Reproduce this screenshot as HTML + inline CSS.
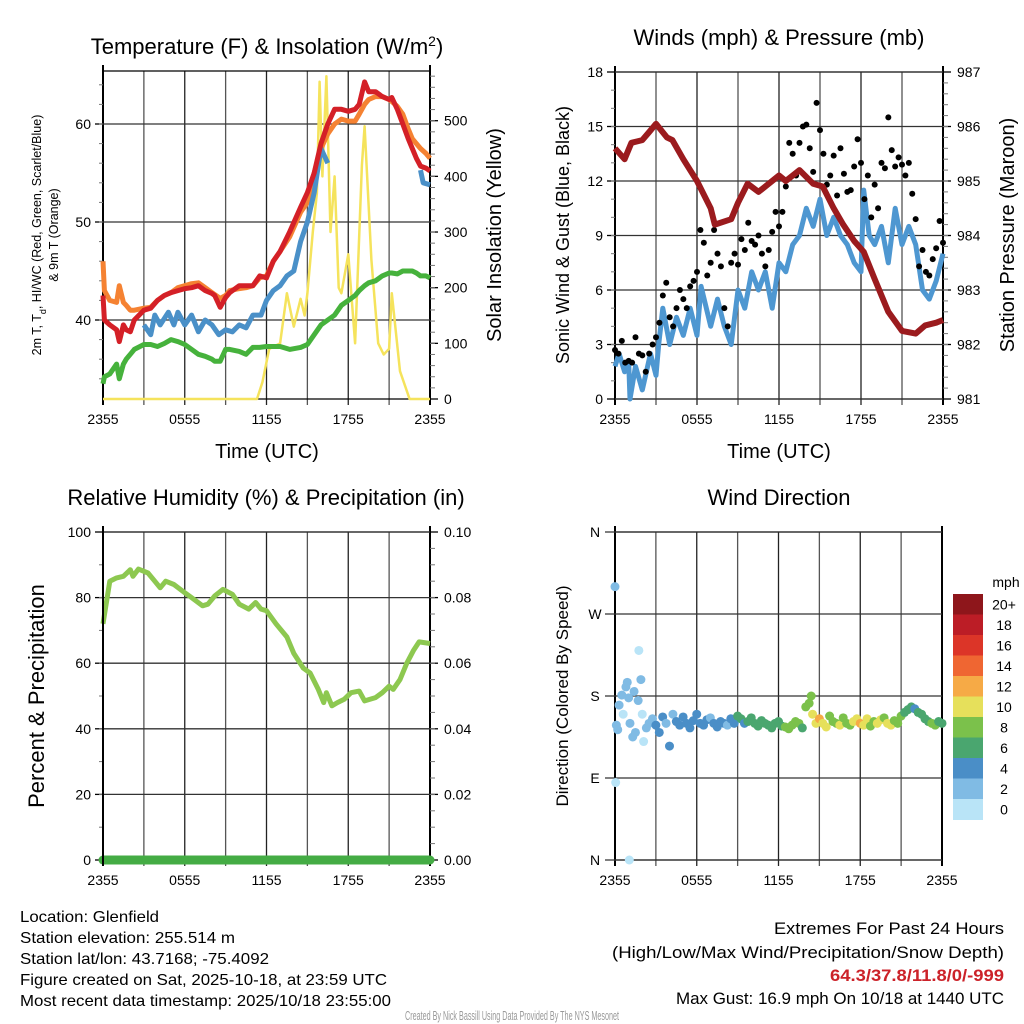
<!DOCTYPE html>
<html><head><meta charset="utf-8"><style>
html,body{margin:0;padding:0;background:#fff}
svg{display:block;font-family:"Liberation Sans",sans-serif}
</style></head><body>
<svg id="fig" width="1024" height="1024" viewBox="0 0 1024 1024" xmlns="http://www.w3.org/2000/svg">
<rect width="1024" height="1024" fill="#fff"/>
<g id="p1"></g>
<g id="p2"></g>
<g id="p3"></g>
<g id="p4"></g>
<g font-size="16" fill="#000">
<text x="20" y="922" textLength="139" lengthAdjust="spacingAndGlyphs">Location: Glenfield</text>
<text x="20" y="943" textLength="215" lengthAdjust="spacingAndGlyphs">Station elevation: 255.514 m</text>
<text x="20" y="964" textLength="249" lengthAdjust="spacingAndGlyphs">Station lat/lon: 43.7168; -75.4092</text>
<text x="20" y="985" textLength="367" lengthAdjust="spacingAndGlyphs">Figure created on Sat, 2025-10-18, at 23:59 UTC</text>
<text x="20" y="1006" textLength="371" lengthAdjust="spacingAndGlyphs">Most recent data timestamp: 2025/10/18 23:55:00</text>
</g>
<g font-size="17" text-anchor="end">
<text x="1004" y="934" textLength="230" lengthAdjust="spacingAndGlyphs">Extremes For Past 24 Hours</text>
<text x="1004" y="958" textLength="392" lengthAdjust="spacingAndGlyphs">(High/Low/Max Wind/Precipitation/Snow Depth)</text>
<text x="1004" y="981" fill="#cc2229" font-weight="bold" textLength="174" lengthAdjust="spacingAndGlyphs">64.3/37.8/11.8/0/-999</text>
<text x="1004" y="1004" textLength="328" lengthAdjust="spacingAndGlyphs">Max Gust: 16.9 mph On 10/18 at 1440 UTC</text>
</g>
<text x="512" y="1020" text-anchor="middle" font-size="13" fill="#999" textLength="214" lengthAdjust="spacingAndGlyphs">Created By Nick Bassill Using Data Provided By The NYS Mesonet</text>
</svg>
<script>
// ---- Data (hours since 2355 UTC) ----
const tickLabels = ["2355","0555","1155","1755","2355"];
const tHours   = [0,0.1,0.5,1,1.2,1.5,1.7,2,2.3,3,3.5,4,4.5,5,5.5,6,6.5,7,7.5,8,8.2,8.6,9,9.3,10,10.5,11,11.5,12,12.5,13,13.7,14.5,15,15.5,16,16.5,17,17.5,18,18.5,18.8,19.2,19.5,20,20.5,21,21.2,21.6,22,22.4,22.7,23,23.3,23.7,24];
const tempRed  = [42.5,40,39.5,39,37.8,39.5,39,38.8,40,41,41.2,42,42.5,42.8,43,43.2,43.3,43.5,43,42.7,42.5,41.3,42.3,42.8,43.5,43.5,43.5,44.5,44.3,46,47,49,51.5,53,55,58,60,61.5,61.5,61.3,61.5,62,64.3,63.3,63.3,62.8,62.5,62.7,61.5,60,58.5,57.5,56.5,55.7,55.5,55.2];
const temp9m   = [46,43,42,41.8,43.5,41.8,41.5,41,41,41.2,41.3,42,42.5,42.8,43.3,43.5,43.7,43.8,43.3,42.8,42.6,42.2,42.5,43,43.2,43.3,43.5,44.3,44.5,46,47,48.5,51,52,55,57.5,59,60,60.5,60.3,60.3,61,62,62.5,62.8,62.8,62.5,62.3,61.8,61,59.5,58.5,58,57.5,57,56.5];
const hiwcHours = [3,3.5,3.8,4.2,4.8,5.2,5.5,6,6.5,7,7.5,8,8.5,9,9.5,10,10.5,11,11.6,12,12.5,13,13.5,14,14.5,15,15.5,16,16.5,null,23.3,23.5,24];
const hiwcBlue  = [39.5,38.5,40.5,39.5,40.8,39.5,40.8,39.5,40.5,38.8,40,39.5,38.5,39,38.8,39.5,39.2,40.5,40.5,42,43,43.5,44.5,45,48,50,53,57.5,56,null,55.3,54,53.8];
const dewGreen = [33.5,34.2,34.5,35.5,34,35.5,36,36.5,37,37.5,37.5,37.3,37.6,38,37.8,37.5,37,36.5,36.3,36,35.8,35.8,37,37,36.8,36.5,37.2,37.2,37.3,37.3,37.3,37,37.2,37.5,38.5,39.5,40,40.5,41.5,42,42.5,43,43.5,43.8,44,44.5,44.8,44.8,44.7,45,45,45,44.8,44.5,44.5,44.3];
const solarHours = [0,11.3,11.7,12.2,13,13.5,14,14.5,14.8,15,15.4,15.7,15.9,16.1,16.4,16.7,17,17.3,17.5,18,18.5,19,19.2,19.7,20.2,20.6,21,21.2,21.8,22.5,24];
const solarVals  = [0,0,30,90,100,190,130,180,150,190,300,370,570,400,580,300,400,200,190,260,100,420,490,250,100,80,90,190,50,0,0];
const windHours = [0,0.3,0.7,1,1.1,1.5,2,2.6,3,3.2,3.5,4,4.5,5,5.5,6,6.3,7,7.5,8,8.5,9,9.5,10,10.5,11,11.5,12,12.5,13,13.5,14,14.5,15,15.5,16,16.5,17,17.5,18,18.2,18.6,19,19.5,20,20.5,21,21.5,22,22.5,23,23.5,24];
const windVals  = [1.8,2.5,1.5,2.0,0,1.8,0.5,2.5,1.3,3,5,3,4.5,3.5,5,3.5,6.2,4,5.5,4,3,6,5,7,6,7,5,7.5,7,8.5,9,10.5,9.5,11,9,10,9,8.5,7.5,7,11.5,9,8.5,9.5,7.5,10.5,8.5,9.5,8.5,6,5.5,6.5,8];
const presHours = [0,0.7,1.2,2,2.5,3,3.8,4.2,5,6,7,7.3,8.5,9,9.7,10.5,11,12,12.5,13.5,14.5,15.2,16,16.7,17.5,18.2,19,20,21,22,22.7,23.5,24];
const presVals  = [985.6,985.4,985.7,985.75,985.9,986.05,985.8,985.75,985.4,985.0,984.5,984.2,984.3,984.6,984.95,984.8,984.9,985.1,985.0,985.2,984.95,984.9,984.5,984.2,983.9,983.7,983.2,982.6,982.25,982.2,982.35,982.4,982.45];
const gustVals = [2.7,2.5,3.2,2,2.1,2.0,3.4,2.5,2.4,1.5,2.5,3.0,3.4,
 4.2,5.7,6.4,4.5,4.0,5.0,6.0,5.5,5.0,6.2,6.5,7.0,
 9.3,8.6,6.8,7.5,9.3,8.0,7.3,5.0,4.0,7.5,8.0,7.4,
 8.8,8.2,9.7,8.7,8.5,9.0,8.0,7.3,8.2,9.2,10.3,9.5,
 10.3,11.7,14.1,13.5,12.3,14.1,15.0,15.1,13.8,12.5,16.3,14.8,
 13.5,11.8,12.3,13.4,11.2,13.8,12.4,11.4,11.5,12.8,14.3,13.0,
 11.0,12.3,10.0,11.8,10.5,13.0,12.7,15.5,13.7,12.8,13.3,12.9,
 12.3,13.0,11.3,9.9,7.3,8.2,7.0,6.8,7.7,8.3,9.8,8.6];
const rhHours = [0,0.5,1,1.5,2,2.2,2.6,3.3,3.8,4.2,4.6,5.2,6,6.5,7.3,7.7,8.2,8.8,9.5,10,10.7,11.2,11.6,12,12.7,13.5,14,14.7,15.2,15.8,16.2,16.4,16.8,17.2,17.7,18.2,18.8,19.2,20,20.5,21,21.3,21.8,22.3,22.8,23.2,24];
const rhVals  = [72,85,86,86.5,88.5,86.5,88.7,87.5,85,83,85,84,81.5,80,77.5,78,80.5,82.5,81,78,76.5,78.5,76.5,76,72,68,63,58.5,57,52,48,51,47,48,49,51,51.5,48.5,49.5,51,53,52,55,60,64,66.5,66];
const precipVals = [0,0];
const precipHours = [0,24];
const dirHours = [0,0.05,0.1,0.2,0.3,0.5,0.6,0.8,0.9,1.0,1.05,1.1,1.3,1.4,1.5,1.7,1.75,1.9,2.0,2.1,2.3,
 2.5,2.75,3,3.25,3.5,3.75,4,4.25,4.5,4.75,5,5.25,5.5,5.75,6,6.25,6.5,6.75,7,7.25,7.5,7.75,8,8.25,8.5,8.75,
 9,9.25,9.5,9.75,10,10.25,10.5,10.75,11,11.25,11.5,11.75,12,12.25,12.5,12.75,13,13.25,13.5,13.75,14,14.25,14.4,14.5,14.75,
 15,15.25,15.5,15.75,16,16.25,16.5,16.75,17,17.25,17.5,17.75,18,18.25,18.5,18.75,19,19.25,19.5,19.75,20,20.25,20.5,20.75,
 21,21.25,21.5,21.75,22,22.25,22.5,22.75,23,23.25,23.5,23.75,24];
const dirVals = [300,85,148,143,170,181,160,190,195,178,0,150,135,185,140,175,230,198,160,130,145,
 150,155,148,140,157,150,125,160,152,148,157,150,145,153,160,150,148,154,156,150,146,152,150,148,155,150,
 158,155,150,152,156,150,147,153,150,148,145,150,152,147,146,144,148,152,150,145,168,172,180,160,150,
 155,150,146,158,152,150,148,156,150,148,152,155,150,148,155,147,152,150,154,156,150,148,153,150,
 158,162,165,168,166,162,160,155,152,150,148,152,150];
const dirSpeeds = [3,1.5,2.5,2,2.5,2.2,1.5,2.5,3,2.5,1,3,3,3.5,2,3,1.5,2.5,1.5,1,2.5,
 2.5,3,4.5,4,4,3,4.5,3,4,4.5,5,4,4.2,4.5,4.5,4,5,4.5,3.5,4.5,5.5,4,4.5,3,4,4.5,
 6.5,6,5,7,6.5,7,6.5,6,7,6.5,7,6,7,7.5,8.5,8.5,9,9,8.5,7,9,8.5,8.5,10.5,11,
 12.5,11,10.5,9.5,8.5,9,10,9,8.5,8,10,10.5,12.5,11,10,9,8.5,10.5,10,9.5,10.5,10,9,9.5,
 8,7,6.5,6,5.5,6,7,7.5,7,8,8.5,7.5,7];
const cbLabels = ["20+","18","16","14","12","10","8","6","4","2","0"];
const cbColors = ["#b9e4f7","#80bbe4","#4a8ec7","#4aa66f","#7bc14b","#e6e05b","#f6aa46","#ef6632","#dc3528","#bc1d26","#8e161b"];

// ---- helpers ----
const NS="http://www.w3.org/2000/svg";
function mk(parent,tag,attrs,text){const e=document.createElementNS(NS,tag);for(const k in attrs)e.setAttribute(k,attrs[k]);if(text!==undefined)e.textContent=text;parent.appendChild(e);return e;}
function lin(d0,d1,r0,r1){return v=>r0+(v-d0)*(r1-r0)/(d1-d0);}
function pathFrom(xs,ys,sx,sy){let d="",pen=false;for(let i=0;i<xs.length;i++){if(xs[i]===null||ys[i]===null||ys[i]===undefined){pen=false;continue;}d+=(pen?"L":"M")+sx(xs[i]).toFixed(1)+","+sy(ys[i]).toFixed(1);pen=true;}return d;}
function speedColor(s){if(s===undefined)s=6;let i=Math.max(0,Math.min(10,Math.floor(s/2)));return cbColors[i];}

function frame(g,L,T,R,B,sx){
  for(let k=0;k<=8;k++){const h=k*3,x=sx(h);
    const l=mk(g,"line",{x1:x,y1:T,x2:x,y2:B+6,stroke:(k%2?"#555":"#222"),"stroke-width":1.3});
    
    
  }
  tickLabels.forEach((t,i)=>{const x=sx(i*6);
    const e=mk(g,"text",{x:x,y:B+25,"text-anchor":"middle","font-size":14},t);
    
    
  });
  mk(g,"line",{x1:L,y1:T,x2:R,y2:T,stroke:"#000","stroke-width":1.3});
  mk(g,"line",{x1:L,y1:B,x2:R,y2:B,stroke:"#000","stroke-width":1.3});
  mk(g,"line",{x1:L,y1:T-6,x2:L,y2:B+6,stroke:"#000","stroke-width":2});
  mk(g,"line",{x1:R,y1:T-6,x2:R,y2:B+6,stroke:"#000","stroke-width":2});
}
function leftTicks(g,L,R,vals,sy,minor,fmt,grid){
  vals.forEach(v=>{const y=sy(v);
    if(grid) mk(g,"line",{x1:L,y1:y,x2:R,y2:y,stroke:"#333","stroke-width":1.3});
    mk(g,"line",{x1:L-8,y1:y,x2:L,y2:y,stroke:"#000","stroke-width":1.3});
    const e=mk(g,"text",{x:L-12,y:y+5,"text-anchor":"end","font-size":14},fmt(v));
    
    
  });
  minor.forEach(v=>mk(g,"line",{x1:L-4,y1:sy(v),x2:L,y2:sy(v),stroke:"#777","stroke-width":1}));
}
function rightTicks(g,R,vals,sy,minor,fmt){
  vals.forEach(v=>{const y=sy(v);
    mk(g,"line",{x1:R,y1:y,x2:R+8,y2:y,stroke:"#000","stroke-width":1.3});
    const e=mk(g,"text",{x:R+14,y:y+5,"font-size":14},fmt(v));
    
    
  });
  minor.forEach(v=>mk(g,"line",{x1:R,y1:sy(v),x2:R+5,y2:sy(v),stroke:"#777","stroke-width":1}));
}
function range(a,b,s){const r=[];for(let v=a;v<=b+1e-9;v+=s)r.push(+v.toFixed(4));return r;}

// ---- Panel 1 ----
(function(){
  const g=document.getElementById("p1");const L=103,R=430,T=71,B=399;
  const sx=lin(0,24,L,R), sy=lin(40,60,320,124), sr=lin(0,500,399,120.7);
  frame(g,L,T,R,B,sx);
  leftTicks(g,L,R,[40,50,60],sy,range(34,64,2),v=>v,true);
  rightTicks(g,R,[0,100,200,300,400,500],sr,range(20,580,20),v=>v);
  let p;
  p=mk(g,"path",{d:pathFrom(solarHours,solarVals,sx,sr),fill:"none",stroke:"#f5e35c","stroke-width":2.5,"stroke-linejoin":"round"});
  
  p=mk(g,"path",{d:pathFrom(tHours,dewGreen,sx,sy),fill:"none",stroke:"#46b23c","stroke-width":5,"stroke-linejoin":"round"});
  
  p=mk(g,"path",{d:pathFrom(tHours,temp9m,sx,sy),fill:"none",stroke:"#f58232","stroke-width":5,"stroke-linejoin":"round"});
  
  p=mk(g,"path",{d:pathFrom(hiwcHours,hiwcBlue,sx,sy),fill:"none",stroke:"#4a90c8","stroke-width":5,"stroke-linejoin":"round"});
  
  p=mk(g,"path",{d:pathFrom(tHours,tempRed,sx,sy),fill:"none",stroke:"#d42027","stroke-width":5,"stroke-linejoin":"round"});
  
  let t=mk(g,"text",{x:267,y:54,"text-anchor":"middle","font-size":22},"Temperature (F) & Insolation (W/m");
  mk(t,"tspan",{"baseline-shift":"super","font-size":14},"2");mk(t,"tspan",{},")");
  
  t=mk(g,"text",{transform:"translate(41,235) rotate(-90)","text-anchor":"middle","font-size":12.5},"2m T, T");
  mk(t,"tspan",{"baseline-shift":"sub","font-size":9},"d");mk(t,"tspan",{},", HI/WC (Red, Green, Scarlet/Blue)");
  
  t=mk(g,"text",{transform:"translate(58,235) rotate(-90)","text-anchor":"middle","font-size":12.5},"& 9m T (Orange)");
  
  t=mk(g,"text",{transform:"translate(501,235) rotate(-90)","text-anchor":"middle","font-size":20},"Solar Insolation (Yellow)");
  
  t=mk(g,"text",{x:267,y:458,"text-anchor":"middle","font-size":20},"Time (UTC)");
  
})();

// ---- Panel 2 ----
(function(){
  const g=document.getElementById("p2");const L=615,R=943,T=72,B=399;
  const sx=lin(0,24,L,R), sy=lin(0,18,B,T), sp=lin(981,987,B,T);
  frame(g,L,T,R,B,sx);
  leftTicks(g,L,R,range(0,18,3),sy,range(1,17,1),v=>v,true);
  rightTicks(g,R,range(981,987,1),sp,range(981.2,986.8,0.2),v=>v);
  let p=mk(g,"path",{d:pathFrom(windHours,windVals,sx,sy),fill:"none",stroke:"#4e97d1","stroke-width":5,"stroke-linejoin":"round"});
  
  gustVals.forEach((v,i)=>{
    const c=mk(g,"circle",{cx:sx(i*0.25),cy:sy(v),r:3,fill:"#000"});
    
    
  });
  p=mk(g,"path",{d:pathFrom(presHours,presVals,sx,sp),fill:"none",stroke:"#9b1b1e","stroke-width":6,"stroke-linejoin":"round"});
  
  let t=mk(g,"text",{x:779,y:45,"text-anchor":"middle","font-size":22},"Winds (mph) & Pressure (mb)");
  
  t=mk(g,"text",{transform:"translate(569,235) rotate(-90)","text-anchor":"middle","font-size":18},"Sonic Wind & Gust (Blue, Black)");
  
  t=mk(g,"text",{transform:"translate(1014,235) rotate(-90)","text-anchor":"middle","font-size":20},"Station Pressure (Maroon)");
  
  t=mk(g,"text",{x:779,y:458,"text-anchor":"middle","font-size":20},"Time (UTC)");
  
})();

// ---- Panel 3 ----
(function(){
  const g=document.getElementById("p3");const L=103,R=430,T=532,B=860;
  const sx=lin(0,24,L,R), sy=lin(0,100,B,T), sr=lin(0,0.1,B,T);
  frame(g,L,T,R,B,sx);
  leftTicks(g,L,R,range(0,100,20),sy,range(10,90,10),v=>v,true);
  rightTicks(g,R,range(0,0.1,0.02),sr,range(0.005,0.095,0.005),v=>v.toFixed(2));
  let p=mk(g,"path",{d:pathFrom(rhHours,rhVals,sx,sy),fill:"none",stroke:"#8dc850","stroke-width":5,"stroke-linejoin":"round"});
  
  p=mk(g,"path",{d:pathFrom(precipHours,precipVals,sx,sr),fill:"none",stroke:"#44ac44","stroke-width":9,"stroke-linecap":"round"});
  
  mk(g,"line",{x1:L,y1:T-6,x2:L,y2:B+6,stroke:"#000","stroke-width":2});
  let t=mk(g,"text",{x:266,y:505,"text-anchor":"middle","font-size":22},"Relative Humidity (%) & Precipitation (in)");
  
  t=mk(g,"text",{transform:"translate(44,696) rotate(-90)","text-anchor":"middle","font-size":22},"Percent & Precipitation");
  
})();

// ---- Panel 4 ----
(function(){
  const g=document.getElementById("p4");const L=615,R=942,T=532,B=860;
  const sx=lin(0,24,L,R), sy=lin(0,360,B,T);
  frame(g,L,T,R,B,sx);
  const dl=["N","E","S","W","N"];
  [0,90,180,270,360].forEach((v,i)=>{const y=sy(v);
    mk(g,"line",{x1:L-10,y1:y,x2:R,y2:y,stroke:"#333","stroke-width":1.3});
    const e=mk(g,"text",{x:L-20,y:y+5,"text-anchor":"middle","font-size":14},dl[i]);
    
    
  });
  dirHours.forEach((h,i)=>{
    if(dirVals[i]===undefined) return;
    const c=mk(g,"circle",{cx:sx(h),cy:sy(dirVals[i]),r:4.5,fill:speedColor(dirSpeeds[i])});
    
    
  });
  const cb=mk(g,"g",{});
  
  
  const cx=953,top=594,h=20.5;
  for(let k=0;k<11;k++){
    mk(cb,"rect",{x:cx,y:top+k*h,width:30,height:h+0.5,fill:cbColors[10-k]});
  }
  cbLabels.forEach((lab,i)=>{
    const e=mk(cb,"text",{x:1004,y:top+i*h+h/2+5,"text-anchor":"middle","font-size":14},lab);
    
    
  });
  let t=mk(g,"text",{x:1006,y:587,"text-anchor":"middle","font-size":14},"mph");
  
  t=mk(g,"text",{x:779,y:505,"text-anchor":"middle","font-size":22},"Wind Direction");
  
  t=mk(g,"text",{transform:"translate(568,696) rotate(-90)","text-anchor":"middle","font-size":17},"Direction (Colored By Speed)");
  
})();
</script>
</body></html>
